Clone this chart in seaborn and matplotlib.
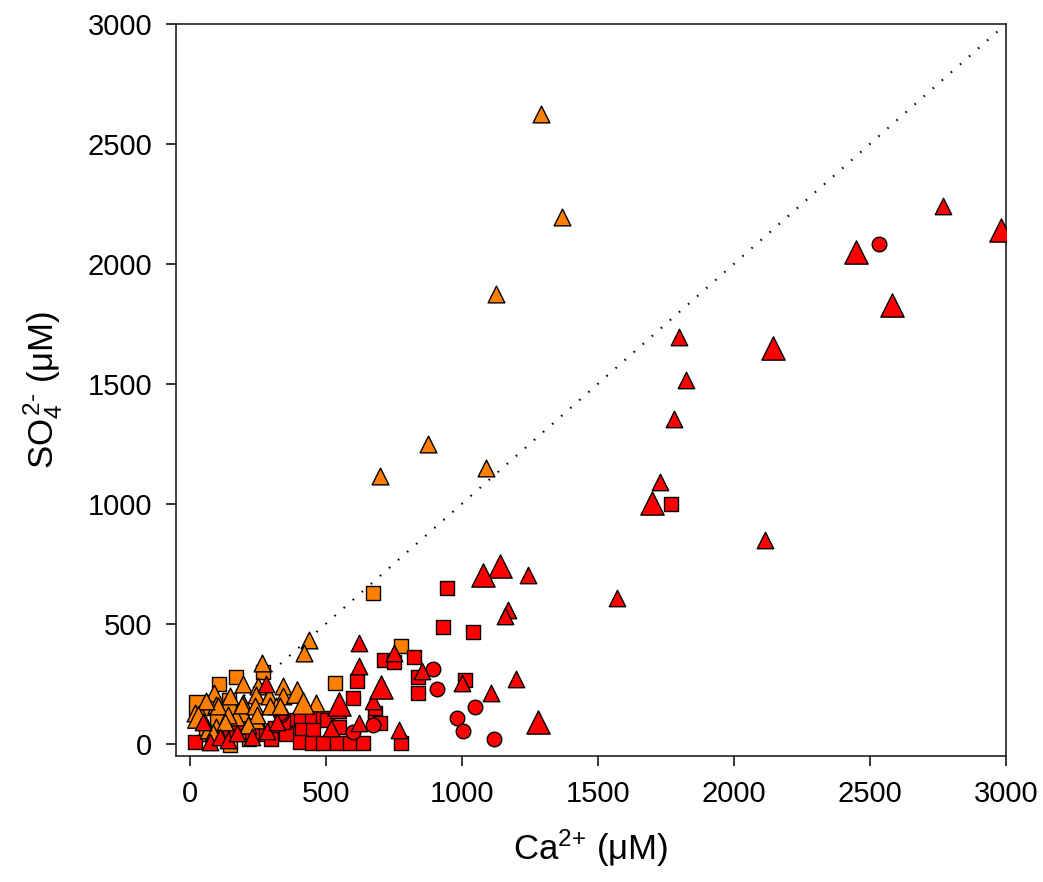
import matplotlib
matplotlib.use("Agg")
import matplotlib.pyplot as plt
import seaborn as sns
import pandas as pd

# Ca2+ / SO4 2- concentrations (µM), grouped by colour, marker and marker size
orange_tri_ca = [1290, 1370, 1125, 875, 1090, 700, 440, 420, 266, 197, 251, 90, 97, 197,
                 244, 292, 343, 343, 464, 318, 244, 197, 171, 97, 68, 39, 105, 141, 193,
                 241, 248, 296, 332, 86, 20, 130, 215, 150, 60]
orange_tri_so4 = [2625, 2195, 1875, 1250, 1150, 1115, 435, 380, 339, 248, 240, 214, 164, 172,
                  206, 198, 240, 198, 172, 157, 101, 130, 114, 72, 60, 130, 157, 122, 164,
                  157, 122, 157, 157, 47, 130, 90, 80, 200, 180]

orange_tri_big_ca = [395, 417, 31]
orange_tri_big_so4 = [215, 172, 114]

orange_sq_ca = [171, 108, 145, 145, 270, 535, 777, 674, 150, 100, 60, 220]
orange_sq_so4 = [281, 248, 185, 140, 301, 256, 409, 630, -5, 110, 40, 20]

orange_sq_big_ca = [35]
orange_sq_big_so4 = [164]

red_sq_ca = [196, 247, 314, 358, 369, 387, 410, 450, 490, 505, 413, 454, 406, 450, 490,
             542, 590, 638, 354, 343, 549, 601, 614, 681, 681, 700, 714, 751, 824, 840,
             840, 931, 945, 1041, 1012, 1770, 777, 20, 260, 300, 230, 150, 120, 180]
red_sq_so4 = [72, 72, 68, 51, 101, 47, 110, 110, 110, 101, 60, 60, 10, 5, 5,
              5, 5, 5, 43, 93, 72, 193, 261, 130, 93, 89, 348, 340, 364, 281,
              214, 488, 651, 468, 268, 1000, 5, 10, 40, 20, 50, 55, 40, 90]

red_circ_ca = [2535, 895, 909, 1049, 982, 1004, 1118, 336, 674, 600, 332]
red_circ_so4 = [2085, 314, 230, 155, 110, 56, 22, 122, 80, 48, 130]

red_tri_ca = [2770, 1800, 1825, 1780, 1730, 2115, 1570, 1245, 1170, 1160, 1200, 1107, 1000,
              854, 623, 623, 770, 751, 549, 545, 674, 623, 520, 50, 75, 112, 141, 174,
              229, 284, 281, 320]
red_tri_so4 = [2240, 1695, 1515, 1355, 1090, 850, 610, 705, 560, 535, 272, 213, 255,
               302, 420, 324, 60, 381, 177, 143, 177, 89, 68, 93, 10, 30, 18, 47,
               30, 55, 248, 90]

red_tri_big_ca = [2980, 2580, 2450, 2145, 1700, 1140, 1080, 1280, 704, 550]
red_tri_big_so4 = [2140, 1830, 2050, 1650, 1005, 740, 705, 90, 237, 165]

x_ticks = [0, 500, 1000, 1500, 2000, 2500, 3000]
y_ticks = [0, 500, 1000, 1500, 2000, 2500, 3000]

ORANGE = "#FF8000"
RED = "#FF0000"

sns.set_theme(style="ticks")
plt.rcParams["font.family"] = ["Liberation Sans", "DejaVu Sans"]
plt.rcParams["mathtext.fontset"] = "custom"
plt.rcParams["mathtext.rm"] = "Liberation Sans"
plt.rcParams["mathtext.it"] = "Liberation Sans:italic"

fig = plt.figure(figsize=(10.43, 8.82), dpi=100)
ax = fig.add_axes([0.1687, 0.1429, 0.7958, 0.8299])

# 1:1 reference line
ax.plot([0, 3000], [0, 3000], color="black", lw=1.5, linestyle=(0, (0.8, 5.0)), zorder=1)

layers = [
    (orange_sq_ca, orange_sq_so4, ORANGE, "s", 110),
    (orange_sq_big_ca, orange_sq_big_so4, ORANGE, "s", 200),
    (red_sq_ca, red_sq_so4, RED, "s", 110),
    (red_circ_ca, red_circ_so4, RED, "o", 110),
    (orange_tri_ca, orange_tri_so4, ORANGE, "^", 145),
    (orange_tri_big_ca, orange_tri_big_so4, ORANGE, "^", 240),
    (red_tri_ca, red_tri_so4, RED, "^", 140),
    (red_tri_big_ca, red_tri_big_so4, RED, "^", 280),
]
for i, (xs, ys, col, mk, sz) in enumerate(layers):
    df = pd.DataFrame({"Ca": xs, "SO4": ys})
    sns.scatterplot(data=df, x="Ca", y="SO4", ax=ax, color=col, marker=mk, s=sz,
                    edgecolor="black", linewidth=1.0, zorder=2 + i, legend=False)

ax.set_xlim(-50, 3000)
ax.set_ylim(-50, 3000)
ax.set_xticks(x_ticks)
ax.set_yticks(y_ticks)
ax.tick_params(axis="both", which="major", direction="out", length=7, width=1.1,
               labelsize=21, pad=10, colors="black", top=False, right=False)
for sp in ax.spines.values():
    sp.set_visible(True)
    sp.set_linewidth(1.2)
    sp.set_color("#222222")

ax.set_xlabel(r"Ca$^{2\text{+}}$ ($\mathrm{\mu}$M)", fontsize=25, labelpad=14, color="black")
ax.set_ylabel(r"SO$_4^{\,2\text{-}}$ ($\mathrm{\mu}$M)", fontsize=25, labelpad=16,
              color="black")

fig.savefig("out.png", dpi=100)
